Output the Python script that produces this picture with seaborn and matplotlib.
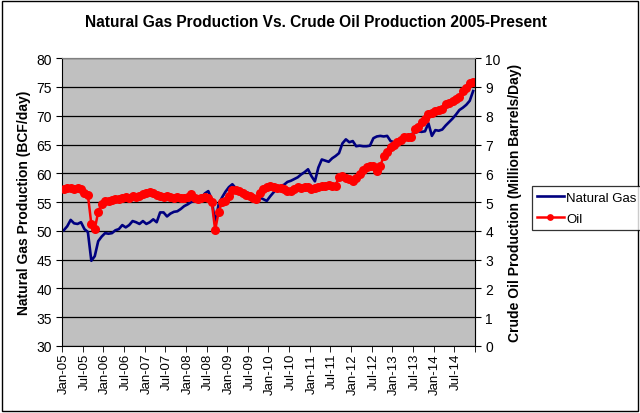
import numpy as np
import pandas as pd
import seaborn as sns
import matplotlib
matplotlib.use("Agg")
import matplotlib.pyplot as plt
from matplotlib.patches import Rectangle

months = pd.date_range("2005-01-01", periods=120, freq="MS")

# Natural gas production, BCF/day
gas = [50.1, 50.8, 51.9, 51.3, 51.2, 51.5, 50.3, 49.8, 44.8, 45.6, 48.2, 49.0,
       49.6, 49.5, 49.6, 50.1, 50.3, 51.0, 50.6, 51.0, 51.7, 51.5, 51.2, 51.7,
       51.2, 51.5, 52.0, 51.5, 53.2, 53.2, 52.5, 53.0, 53.3, 53.4, 53.8, 54.3,
       54.6, 55.0, 55.2, 55.5, 55.7, 56.5, 56.9, 55.5, 51.2, 54.6, 55.8, 56.8,
       57.6, 58.1, 57.4, 57.2, 56.9, 56.7, 56.5, 56.2, 55.0, 55.8, 55.5, 55.2,
       56.0, 56.7, 57.3, 57.8, 58.0, 58.5, 58.7, 59.0, 59.3, 59.8, 60.2, 60.7,
       59.5, 58.6, 61.0, 62.4, 62.2, 62.0, 62.6, 63.0, 63.5, 65.2, 65.9, 65.4,
       65.6, 64.7, 64.8, 64.7, 64.7, 64.8, 66.1, 66.4, 66.5, 66.4, 66.5, 65.6,
       65.4, 65.5, 65.4, 65.8, 66.5, 66.8, 67.0, 67.3, 67.2, 67.3, 68.7, 66.5,
       67.5, 67.4, 67.6, 68.3, 68.9, 69.5, 70.2, 71.0, 71.4, 71.9, 72.6, 74.3]

# Crude oil production, million barrels/day
oil = [5.45, 5.48, 5.50, 5.47, 5.50, 5.45, 5.30, 5.25, 4.24, 4.06, 4.66, 4.95,
       5.02, 5.04, 5.08, 5.10, 5.12, 5.15, 5.17, 5.15, 5.20, 5.18, 5.22, 5.28,
       5.32, 5.35, 5.30, 5.25, 5.20, 5.17, 5.20, 5.17, 5.15, 5.16, 5.14, 5.14,
       5.18, 5.28, 5.15, 5.10, 5.14, 5.16, 5.14, 5.00, 4.03, 4.65, 5.00, 5.04,
       5.21, 5.42, 5.42, 5.38, 5.32, 5.25, 5.21, 5.15, 5.10, 5.30, 5.45, 5.52,
       5.56, 5.52, 5.50, 5.49, 5.45, 5.40, 5.38, 5.45, 5.52, 5.50, 5.52, 5.52,
       5.45, 5.48, 5.52, 5.56, 5.55, 5.60, 5.56, 5.57, 5.88, 5.90, 5.85, 5.80,
       5.73, 5.85, 5.97, 6.10, 6.22, 6.25, 6.25, 6.08, 6.25, 6.60, 6.75, 6.91,
       7.00, 7.08, 7.15, 7.26, 7.26, 7.26, 7.53, 7.60, 7.78, 7.90, 8.06, 8.10,
       8.16, 8.20, 8.25, 8.40, 8.45, 8.50, 8.58, 8.65, 8.85, 8.95, 9.13, 9.17]

df = pd.DataFrame({"idx": np.arange(len(months)), "gas": gas, "oil": oil})

plt.rcParams["font.family"] = ["Liberation Sans", "DejaVu Sans"]

fig = plt.figure(figsize=(6.4, 4.14), dpi=100)
ax = fig.add_axes([0.097, 0.162, 0.645, 0.695])
ax.set_facecolor("#C0C0C0")
ax2 = ax.twinx()

sns.lineplot(data=df, x="idx", y="gas", ax=ax, color="#000080", linewidth=1.9,
             label="Natural Gas", legend=False)
sns.lineplot(data=df, x="idx", y="oil", ax=ax2, color="#FF0000", linewidth=1.8,
             marker="o", markersize=6.5, markeredgewidth=0, label="Oil", legend=False)

ax.set_ylim(30, 80)
ax.set_yticks(np.arange(30, 81, 5))
ax2.set_ylim(0, 10)
ax2.set_yticks(np.arange(0, 11, 1))
ax.set_xlim(-0.5, 119.5)

lab_pos = np.arange(0, 120, 6)
ax.set_xticks(lab_pos)
ax.set_xticklabels([months[i].strftime("%b-%y") for i in lab_pos], rotation=90, fontsize=9.5)
ax.set_xticks(np.arange(-0.5, 120, 6), minor=True)
ax.tick_params(axis="x", which="major", length=0, pad=5)
ax.tick_params(axis="x", which="minor", length=4, color="black")
ax.tick_params(axis="y", labelsize=10, length=4, color="black")
ax2.tick_params(axis="y", labelsize=10, length=4, color="black")

ax.grid(axis="y", color="black", linewidth=0.9)
ax.set_axisbelow(True)
for s in ["top", "right"]:
    ax.spines[s].set_color("#808080")
ax2.spines["top"].set_color("#808080")
ax.spines["left"].set_color("black")
ax.spines["bottom"].set_color("black")
ax2.spines["right"].set_color("black")
ax2.spines["left"].set_visible(False)
ax2.spines["bottom"].set_visible(False)

ax.set_xlabel("")
ax.set_ylabel("Natural Gas Production (BCF/day)", fontsize=10, fontweight="bold", labelpad=4)
ax2.set_ylabel("Crude Oil Production (Million Barrels/Day)", fontsize=10, fontweight="bold", labelpad=5)
fig.text(0.494, 0.945, "Natural Gas Production Vs. Crude Oil Production 2005-Present",
         ha="center", va="center", fontsize=11.2, fontweight="bold")

h1, l1 = ax.get_legend_handles_labels()
h2, l2 = ax2.get_legend_handles_labels()
leg = fig.legend(h1 + h2, l1 + l2, loc="upper left", bbox_to_anchor=(0.831, 0.548),
                 borderaxespad=0, fontsize=9.5, frameon=True, fancybox=False,
                 handlelength=2.0, borderpad=0.4, labelspacing=0.7, handletextpad=0.2,
                 markerscale=0.75)
leg.get_frame().set_edgecolor("black")
leg.get_frame().set_linewidth(0.9)

fig.patches.append(Rectangle((0.003, 0.005), 0.994, 0.99, transform=fig.transFigure,
                             fill=False, edgecolor="black", linewidth=1))

fig.savefig("out.png", dpi=100)
